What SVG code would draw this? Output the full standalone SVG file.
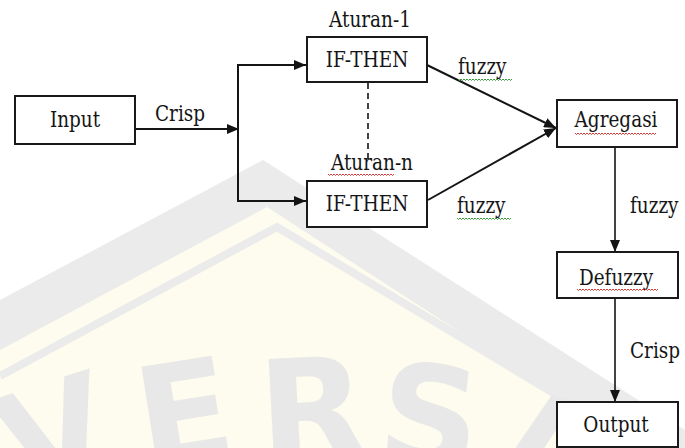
<svg xmlns="http://www.w3.org/2000/svg" width="685" height="448" viewBox="0 0 685 448">
  <style>
    .box { fill: #ffffff; stroke: #1a1a1a; stroke-width: 2; }
    .lbl { font-family: "DejaVu Serif", serif; font-stretch: condensed; font-size: 20.5px; fill: #151515; }
    .mid { text-anchor: middle; }
    .wire { fill: none; stroke: #141414; stroke-width: 2; }
    .thin { stroke-width: 1.6; }
    .dash { fill: none; stroke: #141414; stroke-width: 1.6; stroke-dasharray: 6 4; }
    .wave-r { fill: none; stroke: #d43a3a; stroke-width: 1; }
    .wave-g { fill: none; stroke: #3a9a3a; stroke-width: 1; }
    .wm { font-family: "DejaVu Sans", sans-serif; font-weight: bold; font-size: 140px; fill: #e8e8e8; text-anchor: middle; }
  </style>
  <defs>
    <marker id="arrow" viewBox="0 0 12 10" refX="12" refY="5" markerWidth="12" markerHeight="10" markerUnits="userSpaceOnUse" orient="auto">
      <path d="M0,0 L12,5 L0,10 Z" fill="#141414"/>
    </marker>
  </defs>

  <rect width="685" height="448" fill="#ffffff"/>

  <!-- faint background emblem -->
  <g id="watermark">
    <path d="M0,300 L263,160 L685,430 L685,448 L0,448 Z" fill="#ebebeb"/>
    <path d="M0,350 L267,207 L685,478 L685,448 L0,448 Z" fill="#fdfcee"/>
    <path d="M0,376 L277,227 L685,472" fill="none" stroke="#ebebeb" stroke-width="8"/>
    <text class="wm" transform="translate(70,482) rotate(-18)">V</text>
    <text class="wm" transform="translate(192,462) rotate(-9)">E</text>
    <text class="wm" transform="translate(315,459) rotate(-3)">R</text>
    <text class="wm" transform="translate(425,466) rotate(6)">S</text>
    <text class="wm" transform="translate(542,498) rotate(14)">A</text>
  </g>

  <g id="connectors">
    <line class="wire" x1="135" y1="129" x2="239" y2="129" marker-end="url(#arrow)"/>
    <line class="wire" x1="238" y1="64" x2="238" y2="202"/>
    <line class="wire" x1="237" y1="65" x2="306" y2="65" marker-end="url(#arrow)"/>
    <line class="wire" x1="237" y1="201" x2="306" y2="201" marker-end="url(#arrow)"/>
    <line class="wire" x1="427" y1="65" x2="556" y2="128" marker-end="url(#arrow)"/>
    <line class="wire" x1="428" y1="200" x2="556" y2="128" marker-end="url(#arrow)"/>
    <line class="dash" x1="368" y1="83" x2="368" y2="160"/>
    <line class="wire thin" x1="615" y1="147" x2="615" y2="252" marker-end="url(#arrow)"/>
    <line class="wire thin" x1="615" y1="298" x2="615" y2="402" marker-end="url(#arrow)"/>
    <text class="lbl" transform="translate(155,121) scale(1,1.12)">Crisp</text>
    <text class="lbl" transform="translate(458,74) scale(1,1.12)">fuzzy</text>
    <path class="wave-g" d="M458,79 l1.5,1.5 1.5,-1.5 1.5,1.5 1.5,-1.5 1.5,1.5 1.5,-1.5 1.5,1.5 1.5,-1.5 1.5,1.5 1.5,-1.5 1.5,1.5 1.5,-1.5 1.5,1.5 1.5,-1.5 1.5,1.5 1.5,-1.5 1.5,1.5 1.5,-1.5 1.5,1.5 1.5,-1.5 1.5,1.5 1.5,-1.5 1.5,1.5 1.5,-1.5 1.5,1.5 1.5,-1.5 1.5,1.5 1.5,-1.5 1.5,1.5 1.5,-1.5 1.5,1.5 1.5,-1.5 1.5,1.5 1.5,-1.5 1.5,1.5 1.5,-1.5"/>
    <text class="lbl" transform="translate(457,213) scale(1,1.12)">fuzzy</text>
    <path class="wave-g" d="M457,218 l1.5,1.5 1.5,-1.5 1.5,1.5 1.5,-1.5 1.5,1.5 1.5,-1.5 1.5,1.5 1.5,-1.5 1.5,1.5 1.5,-1.5 1.5,1.5 1.5,-1.5 1.5,1.5 1.5,-1.5 1.5,1.5 1.5,-1.5 1.5,1.5 1.5,-1.5 1.5,1.5 1.5,-1.5 1.5,1.5 1.5,-1.5 1.5,1.5 1.5,-1.5 1.5,1.5 1.5,-1.5 1.5,1.5 1.5,-1.5 1.5,1.5 1.5,-1.5 1.5,1.5 1.5,-1.5 1.5,1.5 1.5,-1.5 1.5,1.5 1.5,-1.5"/>
    <text class="lbl" transform="translate(630,213) scale(1,1.12)">fuzzy</text>
    <text class="lbl" transform="translate(630,358) scale(1,1.12)">Crisp</text>
  </g>

  <g id="input">
    <rect class="box" x="15" y="96" width="120" height="48"/>
    <text class="lbl mid" transform="translate(75,127) scale(1,1.12)">Input</text>
  </g>

  <g id="rule-1">
    <text class="lbl mid" transform="translate(370,27) scale(1,1.12)">Aturan-1</text>
    <rect class="box" x="307" y="37" width="120" height="45"/>
    <text class="lbl mid" transform="translate(367,67) scale(1,1.12)">IF-THEN</text>
  </g>

  <g id="rule-n">
    <text class="lbl mid" transform="translate(372,170) scale(1,1.12)">Aturan-n</text>
    <path class="wave-r" d="M328,174 l1.5,1.5 1.5,-1.5 1.5,1.5 1.5,-1.5 1.5,1.5 1.5,-1.5 1.5,1.5 1.5,-1.5 1.5,1.5 1.5,-1.5 1.5,1.5 1.5,-1.5 1.5,1.5 1.5,-1.5 1.5,1.5 1.5,-1.5 1.5,1.5 1.5,-1.5 1.5,1.5 1.5,-1.5 1.5,1.5 1.5,-1.5 1.5,1.5 1.5,-1.5 1.5,1.5 1.5,-1.5 1.5,1.5 1.5,-1.5 1.5,1.5 1.5,-1.5 1.5,1.5 1.5,-1.5 1.5,1.5 1.5,-1.5 1.5,1.5 1.5,-1.5 1.5,1.5 1.5,-1.5 1.5,1.5 1.5,-1.5 1.5,1.5 1.5,-1.5 1.5,1.5 1.5,-1.5"/>
    <rect class="box" x="307" y="181" width="120" height="46"/>
    <text class="lbl mid" transform="translate(367,211) scale(1,1.12)">IF-THEN</text>
  </g>

  <g id="agregasi">
    <rect class="box" x="557" y="100" width="120" height="47"/>
    <text class="lbl mid" transform="translate(616,127) scale(1,1.12)">Agregasi</text>
    <path class="wave-r" d="M575,133 l1.5,1.5 1.5,-1.5 1.5,1.5 1.5,-1.5 1.5,1.5 1.5,-1.5 1.5,1.5 1.5,-1.5 1.5,1.5 1.5,-1.5 1.5,1.5 1.5,-1.5 1.5,1.5 1.5,-1.5 1.5,1.5 1.5,-1.5 1.5,1.5 1.5,-1.5 1.5,1.5 1.5,-1.5 1.5,1.5 1.5,-1.5 1.5,1.5 1.5,-1.5 1.5,1.5 1.5,-1.5 1.5,1.5 1.5,-1.5 1.5,1.5 1.5,-1.5 1.5,1.5 1.5,-1.5 1.5,1.5 1.5,-1.5 1.5,1.5 1.5,-1.5 1.5,1.5 1.5,-1.5 1.5,1.5 1.5,-1.5 1.5,1.5 1.5,-1.5 1.5,1.5 1.5,-1.5 1.5,1.5 1.5,-1.5 1.5,1.5 1.5,-1.5 1.5,1.5 1.5,-1.5 1.5,1.5 1.5,-1.5 1.5,1.5 1.5,-1.5"/>
  </g>

  <g id="defuzzy">
    <rect class="box" x="557" y="252" width="121" height="46"/>
    <text class="lbl mid" transform="translate(616,285) scale(1,1.12)">Defuzzy</text>
    <path class="wave-r" d="M577,289 l1.5,1.5 1.5,-1.5 1.5,1.5 1.5,-1.5 1.5,1.5 1.5,-1.5 1.5,1.5 1.5,-1.5 1.5,1.5 1.5,-1.5 1.5,1.5 1.5,-1.5 1.5,1.5 1.5,-1.5 1.5,1.5 1.5,-1.5 1.5,1.5 1.5,-1.5 1.5,1.5 1.5,-1.5 1.5,1.5 1.5,-1.5 1.5,1.5 1.5,-1.5 1.5,1.5 1.5,-1.5 1.5,1.5 1.5,-1.5 1.5,1.5 1.5,-1.5 1.5,1.5 1.5,-1.5 1.5,1.5 1.5,-1.5 1.5,1.5 1.5,-1.5 1.5,1.5 1.5,-1.5 1.5,1.5 1.5,-1.5 1.5,1.5 1.5,-1.5 1.5,1.5 1.5,-1.5 1.5,1.5 1.5,-1.5 1.5,1.5 1.5,-1.5 1.5,1.5 1.5,-1.5 1.5,1.5 1.5,-1.5 1.5,1.5 1.5,-1.5"/>
  </g>

  <g id="output">
    <rect class="box" x="557" y="402" width="121" height="45"/>
    <text class="lbl mid" transform="translate(616,432) scale(1,1.12)">Output</text>
  </g>
</svg>
